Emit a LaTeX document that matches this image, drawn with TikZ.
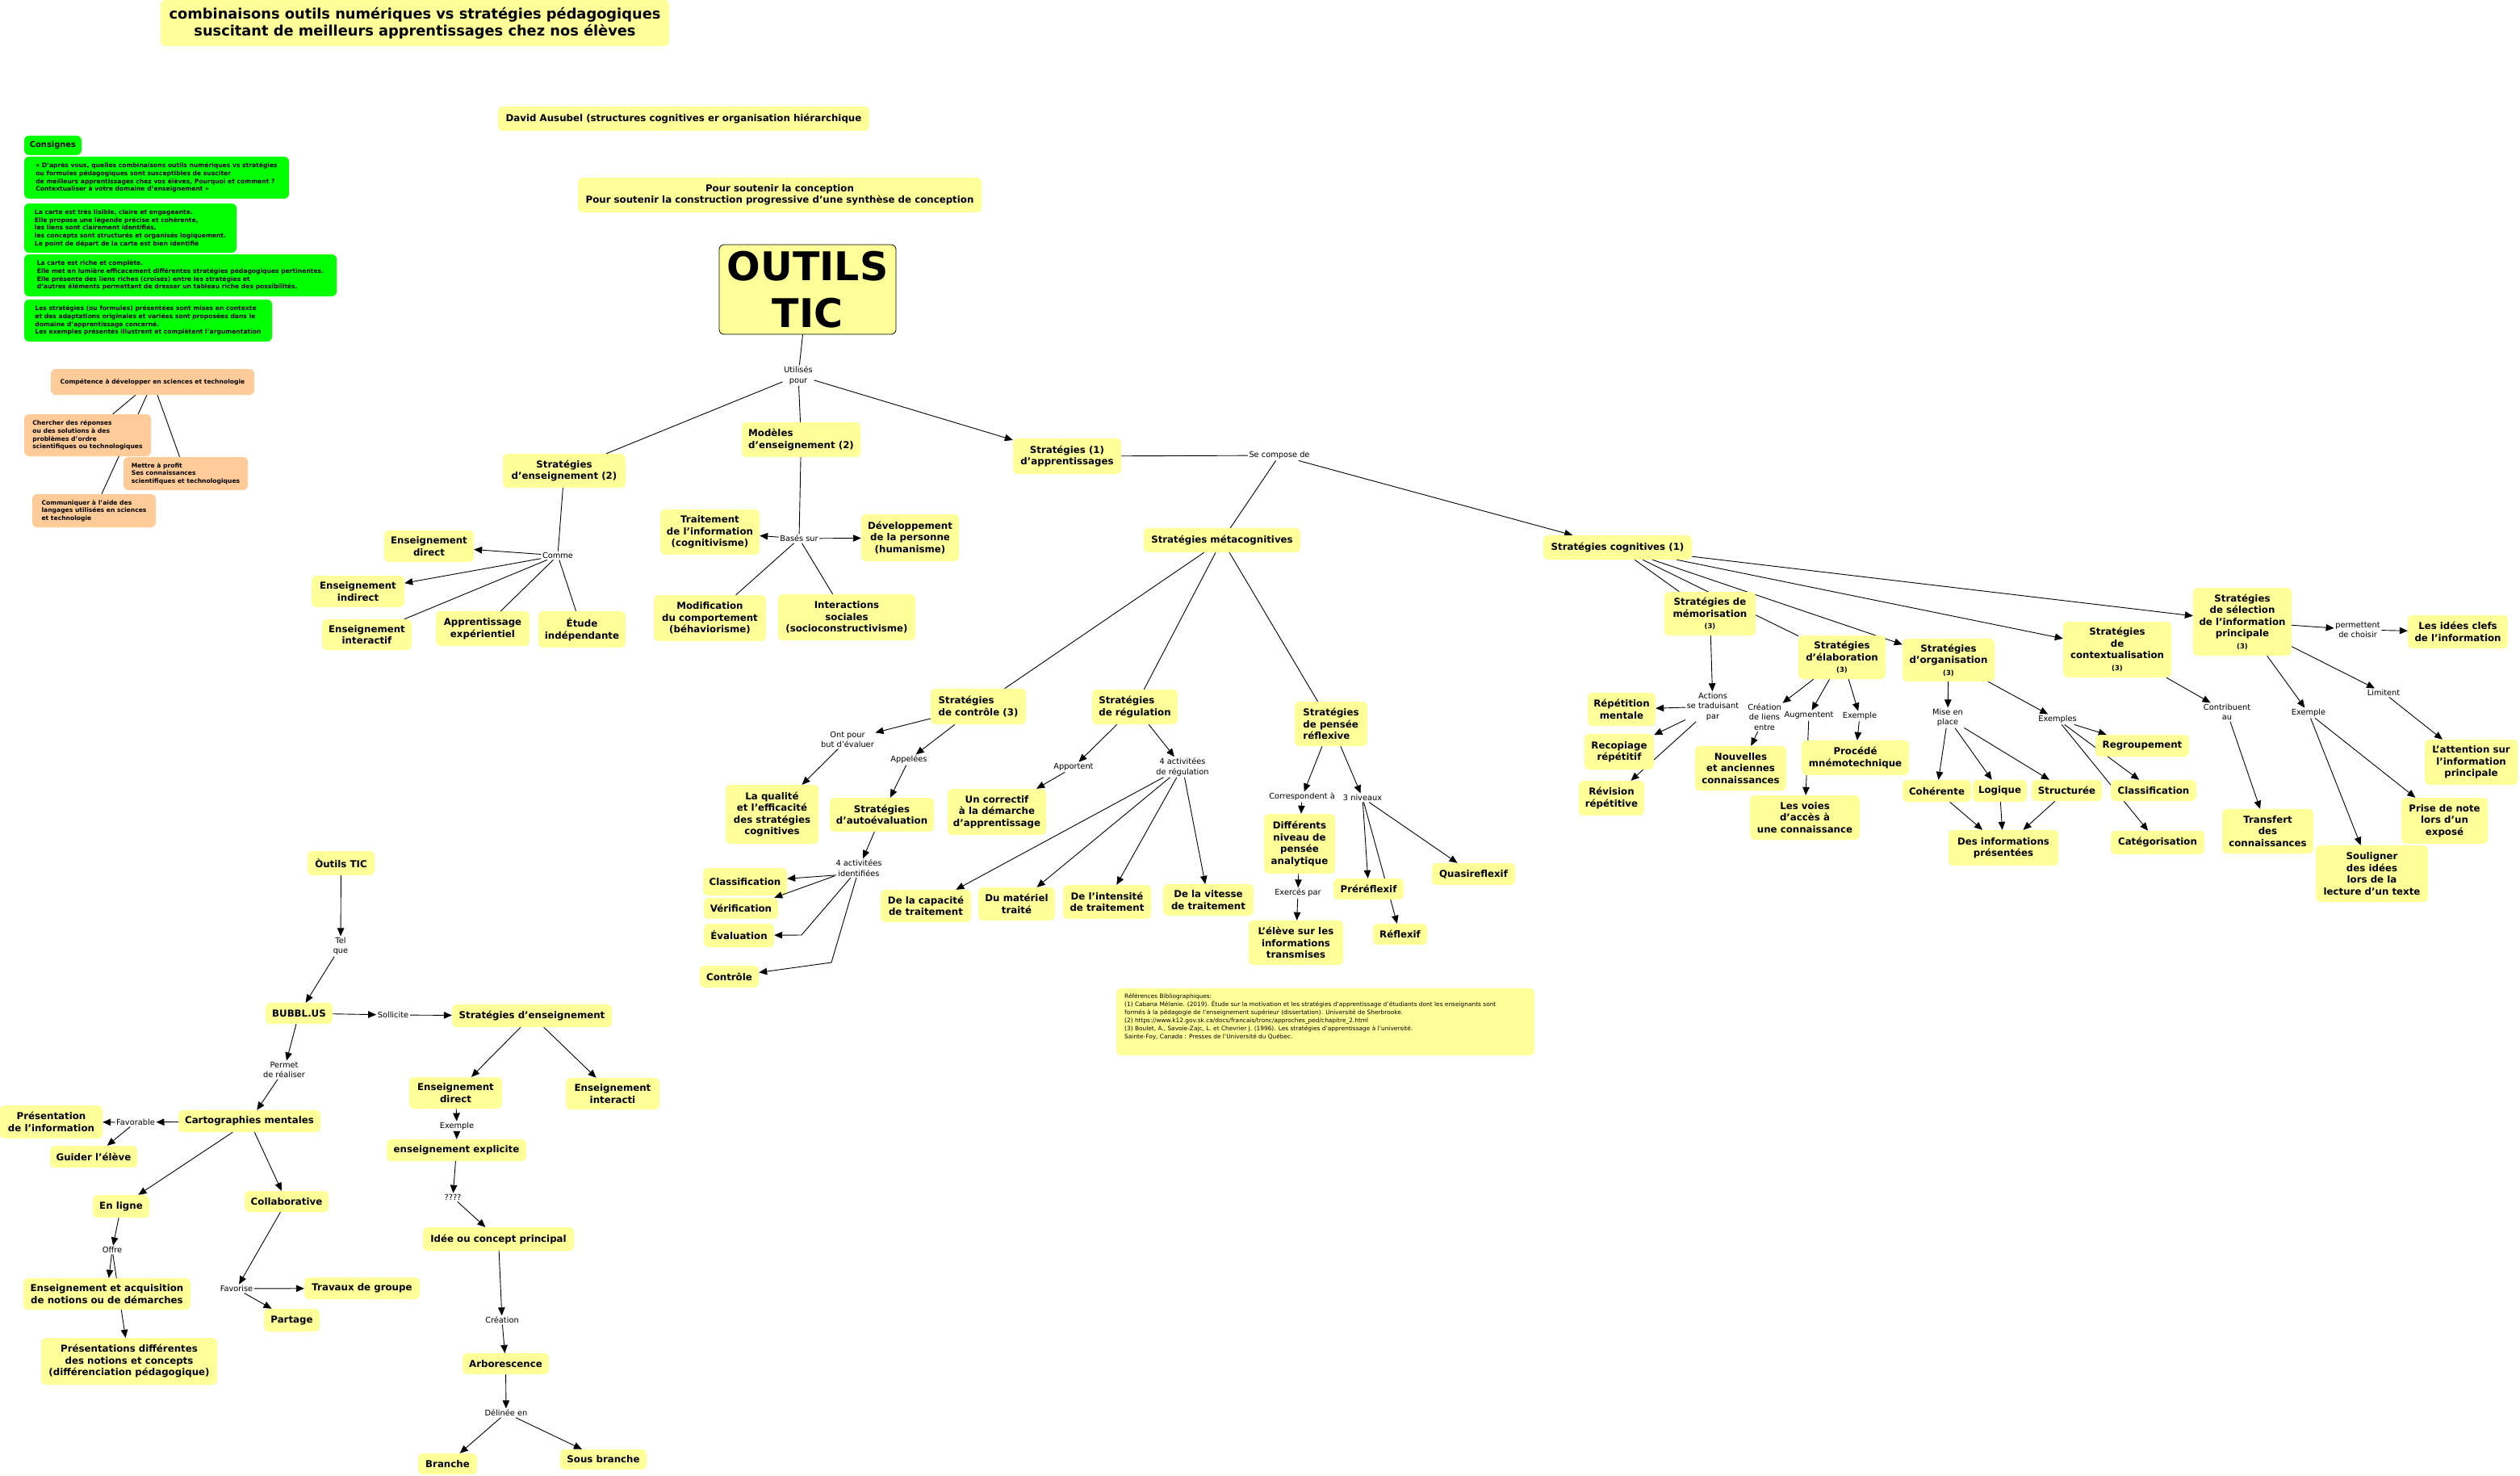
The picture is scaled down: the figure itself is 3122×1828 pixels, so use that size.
\documentclass[tikz,border=0pt]{standalone}
\usepackage{fontspec}
\setmainfont{DejaVu Sans}
\usetikzlibrary{arrows.meta,backgrounds}
\definecolor{yel}{HTML}{FFFF99}
\definecolor{grn}{HTML}{00FF00}
\definecolor{org}{HTML}{FFCC99}
\newcommand\cmnode[7]{\node[#1,minimum width={#5-#3},minimum height={#6-#4}] (#2) at ({(#3+#5)/2},{(#4+#6)/2}) {#7};}
\tikzset{
 base/.style={rounded corners=6pt, inner sep=1pt, text=black},
 yb/.style={base, fill=yel, align=center, font=\bfseries\fontsize{11.8}{14.5}\selectfont},
 ybl/.style={yb, align=left},
 gb/.style={base, fill=grn, align=left, font=\bfseries\fontsize{7.6}{9.7}\selectfont},
 ob/.style={base, fill=org, align=left, font=\bfseries\fontsize{7.6}{9.7}\selectfont},
 lbl/.style={inner sep=1.5pt, align=center, font=\fontsize{9.8}{12.3}\selectfont},
 ar/.style={-{Triangle[length=10pt,width=8.5pt]}, line width=0.9pt},
 ln/.style={line width=0.9pt},
}
\newcommand\tre{{\fontsize{8.5}{10}\selectfont (3)}}
\begin{document}
\begin{tikzpicture}[x=1pt,y=-1pt]
\useasboundingbox (0,0) rectangle (3122,1828);
% ---------- top
\cmnode{yb,font=\bfseries\fontsize{17.8}{21}\selectfont}{title}{199}{0}{829}{57}{combinaisons outils numériques vs stratégies pédagogiques\\suscitant de meilleurs apprentissages chez nos élèves}
\cmnode{yb}{david}{617}{132}{1077}{162}{David Ausubel (structures cognitives er organisation hiérarchique}
\cmnode{yb}{pour}{716}{220}{1216}{263}{Pour soutenir la conception\\Pour soutenir la construction progressive d'une synthèse de conception}
\cmnode{yb,draw=black,line width=0.8pt,font=\bfseries\fontsize{49}{58}\selectfont}{outils}{891}{303}{1110}{414}{OUTILS\\TIC}
% ---------- green
\cmnode{gb,font=\bfseries\fontsize{9.9}{12}\selectfont}{consignes}{30}{168}{101}{192}{Consignes}
\cmnode{gb}{g1}{30}{194}{358}{246}{« D’après vous, quelles combinaisons outils numériques vs stratégies\\ ou formules pédagogiques sont susceptibles de susciter\\de meilleurs apprentissages chez vos élèves, Pourquoi et comment ?\\Contextualiser à votre domaine d’enseignement »}
\cmnode{gb}{g2}{30}{252}{293}{313}{La carte est très lisible, claire et engageante.\\Elle propose une légende précise et cohérente,\\les liens sont clairement identifiés,\\les concepts sont structurés et organisés logiquement.\\Le point de départ de la carte est bien identifié}
\cmnode{gb}{g3}{30}{315}{417}{367}{La carte est riche et complète.\\Elle met en lumière efficacement différentes stratégies pédagogiques pertinentes.\\Elle présente des liens riches (croisés) entre les stratégies et\\d’autres éléments permettant de dresser un tableau riche des possibilités.}
\cmnode{gb}{g4}{30}{371}{337}{423}{Les stratégies (ou formules) présentées sont mises en contexte\\et des adaptations originales et variées sont proposées dans le\\ domaine d’apprentissage concerné.\\Les exemples présentés illustrent et complètent l’argumentation}
% ---------- orange
\cmnode{ob}{comp}{63}{457}{315}{489}{Compétence à développer en sciences et technologie}
\cmnode{ob}{chercher}{30}{513}{187}{565}{Chercher des réponses\\ou des solutions à des\\problèmes d'ordre\\scientifiques ou technologiques}
\cmnode{ob}{mettre}{153}{566}{307}{607}{Mettre à profit\\Ses connaissances\\scientifiques et technologiques}
\cmnode{ob}{commun}{40}{612}{193}{653}{Communiquer à l'aide des\\langages utilisées en sciences\\et technologie}
% ---------- centre
\cmnode{yb}{sens2}{623}{562}{775}{604}{Stratégies\\d'enseignement (2)}
\cmnode{ybl}{mod}{919}{523}{1066}{566}{Modèles\\d'enseignement (2)}
\cmnode{yb}{strat1}{1255}{543}{1389}{587}{Stratégies (1)\\d'apprentissages}
\cmnode{yb}{edirect}{476}{657}{587}{696}{Enseignement\\direct}
\cmnode{yb}{eindirect}{386}{713}{501}{752}{Enseignement\\indirect}
\cmnode{yb}{einter}{399}{767}{510}{805}{Enseignement\\interactif}
\cmnode{yb}{apprexp}{540}{757}{656}{800}{Apprentissage\\expérientiel}
\cmnode{yb}{etude}{667}{757}{775}{802}{Étude\\indépendante}
\cmnode{yb}{trait}{818}{631}{941}{687}{Traitement\\de l'information\\(cognitivisme)}
\cmnode{yb}{dev}{1067}{637}{1188}{695}{Développement\\de la personne\\(humanisme)}
\cmnode{yb}{modif}{810}{737}{949}{794}{Modification\\du comportement\\(béhaviorisme)}
\cmnode{yb}{inter}{964}{736}{1134}{793}{Interactions\\sociales\\(socioconstructivisme)}
\cmnode{yb}{meta}{1417}{654}{1611}{684}{Stratégies métacognitives}
\cmnode{yb}{cog}{1912}{663}{2096}{693}{Stratégies cognitives (1)}
\cmnode{ybl}{ctrl}{1153}{853}{1271}{897}{Stratégies\\de contrôle (3)}
\cmnode{ybl}{regul}{1353}{854}{1459}{897}{Stratégies\\de régulation}
\cmnode{ybl}{reflex}{1604}{869}{1694}{924}{Stratégies\\de pensée\\réflexive}
\cmnode{yb}{qualite}{899}{972}{1014}{1045}{La qualité\\et l'efficacité\\des stratégies\\cognitives}
\cmnode{yb}{autoeval}{1028}{988}{1157}{1030}{Stratégies\\d'autoévaluation}
\cmnode{yb}{classifa}{871}{1075}{975}{1109}{Classification}
\cmnode{yb}{verif}{872}{1112}{964}{1138}{Vérification}
\cmnode{yb}{evalu}{872}{1144}{959}{1173}{Évaluation}
\cmnode{yb}{controle}{867}{1196}{940}{1223}{Contrôle}
\cmnode{yb}{correctif}{1174}{977}{1296}{1034}{Un correctif\\à la démarche\\d'apprentissage}
\cmnode{yb}{capacite}{1091}{1102}{1203}{1142}{De la capacité\\de traitement}
\cmnode{yb}{materiel}{1212}{1099}{1307}{1140}{Du matériel\\traité}
\cmnode{yb}{intensite}{1317}{1096}{1426}{1138}{De l'intensité\\de traitement}
\cmnode{yb}{vitesse}{1441}{1095}{1553}{1134}{De la vitesse\\de traitement}
\cmnode{yb}{niveaux}{1566}{1008}{1654}{1082}{Différents\\niveau de\\pensée\\analytique}
\cmnode{yb}{eleve}{1547}{1140}{1664}{1195}{L'élève sur les\\informations\\transmises}
\cmnode{yb}{prerefl}{1652}{1088}{1739}{1114}{Préréflexif}
\cmnode{yb}{refl}{1701}{1144}{1768}{1170}{Réflexif}
\cmnode{yb}{quasi}{1774}{1069}{1877}{1096}{Quasireflexif}
% ---------- right
\cmnode{yb}{memo}{2062}{733}{2175}{787}{Stratégies de\\mémorisation\\\tre}
\cmnode{yb}{elab}{2228}{787}{2336}{841}{Stratégies\\d'élaboration\\\tre}
\cmnode{yb}{orga}{2357}{791}{2471}{844}{Stratégies\\d'organisation\\\tre}
\cmnode{yb}{contexte}{2556}{770}{2690}{839}{Stratégies\\de\\contextualisation\\\tre}
\cmnode{yb}{select}{2717}{728}{2839}{812}{Stratégies\\de sélection\\de l'information\\principale\\\tre}
\cmnode{yb}{repet}{1967}{858}{2051}{899}{Répétition\\mentale}
\cmnode{yb}{recop}{1963}{909}{2049}{953}{Recopiage\\répétitif}
\cmnode{yb}{revis}{1956}{967}{2037}{1010}{Révision\\répétitive}
\cmnode{yb}{nouv}{2100}{924}{2213}{979}{Nouvelles\\et anciennes\\connaissances}
\cmnode{yb}{voies}{2168}{985}{2304}{1040}{Les voies\\d'accès à\\une connaissance}
\cmnode{yb}{proc}{2232}{917}{2365}{960}{Procédé\\mnémotechnique}
\cmnode{yb}{coher}{2357}{966}{2442}{993}{Cohérente}
\cmnode{yb}{logique}{2444}{966}{2511}{993}{Logique}
\cmnode{yb}{struct}{2517}{966}{2604}{992}{Structurée}
\cmnode{yb}{desinfo}{2414}{1028}{2550}{1072}{Des informations\\présentées}
\cmnode{yb}{regroup}{2596}{910}{2712}{937}{Regroupement}
\cmnode{yb}{classifb}{2615}{966}{2721}{992}{Classification}
\cmnode{yb}{categ}{2615}{1029}{2731}{1058}{Catégorisation}
\cmnode{yb}{transfert}{2753}{1002}{2866}{1057}{Transfert\\des\\connaissances}
\cmnode{yb}{idees}{2983}{762}{3107}{803}{Les idées clefs\\de l'information}
\cmnode{yb}{attention}{3004}{916}{3119}{972}{L'attention sur\\l'information\\principale}
\cmnode{yb}{prise}{2975}{988}{3082}{1045}{Prise de note\\lors d'un\\exposé}
\cmnode{yb}{souligner}{2869}{1047}{3008}{1117}{Souligner\\des idées\\lors de la\\lecture d'un texte}
\cmnode{yb}{refbox}{1383}{1224}{1901}{1307}{}
\node[anchor=north west, align=left, inner sep=0pt, font=\fontsize{7.4}{10}\selectfont] (refs) at (1393,1230) {Références Bibliographiques:\\(1) Cabana Mélanie. (2019). Étude sur la motivation et les stratégies d’apprentissage d’étudiants dont les enseignants sont\\formés à la pédagogie de l’enseignement supérieur (dissertation). Université de Sherbrooke.\\(2) https://www.k12.gov.sk.ca/docs/francais/tronc/approches\_ped/chapitre\_2.html\\(3) Boulet, A., Savoie-Zajc, L. et Chevrier J. (1996). Les stratégies d’apprentissage à l’université.\\Sainte-Foy, Canada : Presses de l’Université du Québec.};
% ---------- bottom left
\cmnode{yb}{outilsb}{381}{1054}{464}{1084}{Òutils TIC}
\cmnode{yb}{bubbl}{329}{1242}{412}{1268}{BUBBL.US}
\cmnode{yb}{sens}{560}{1244}{758}{1272}{Stratégies d'enseignement}
\cmnode{yb}{edirectb}{507}{1334}{622}{1373}{Enseignement\\direct}
\cmnode{yb}{einterb}{701}{1335}{817}{1374}{Enseignement\\interacti}
\cmnode{yb}{explicite}{479}{1411}{652}{1438}{enseignement explicite}
\cmnode{yb}{idee}{524}{1520}{711}{1549}{Idée ou concept principal}
\cmnode{yb}{arbo}{573}{1676}{680}{1702}{Arborescence}
\cmnode{yb}{branche}{518}{1800}{591}{1826}{Branche}
\cmnode{yb}{sousbr}{694}{1795}{801}{1820}{Sous branche}
\cmnode{yb}{carto}{221}{1375}{397}{1402}{Cartographies mentales}
\cmnode{yb}{present}{0}{1369}{127}{1410}{Présentation\\de l'information}
\cmnode{yb}{guider}{62}{1419}{170}{1446}{Guider l'élève}
\cmnode{yb}{enligne}{115}{1480}{185}{1508}{En ligne}
\cmnode{yb}{collab}{303}{1475}{407}{1501}{Collaborative}
\cmnode{yb}{enseigacq}{29}{1583}{236}{1622}{Enseignement et acquisition\\de notions ou de démarches}
\cmnode{yb}{presdiff}{51}{1657}{269}{1715}{Présentations différentes\\des notions et concepts\\(différenciation pédagogique)}
\cmnode{yb}{travaux}{377}{1582}{520}{1609}{Travaux de groupe}
\cmnode{yb}{partage}{327}{1621}{396}{1649}{Partage}
% ---------- labels
\node[lbl] (utilises) at (989,465) {Utilisés\\pour};
\node[lbl] (comme) at (691,688) {Comme};
\node[lbl] (bases) at (990,667) {Basés sur};
\node[lbl] (secompose) at (1585,564) {Se compose de};
\node[lbl] (ontpour) at (1050,916) {Ont pour\\but d'évaluer};
\node[lbl] (appelees) at (1126,941) {Appelées};
\node[lbl] (actid) at (1064,1075) {4 activitées\\identifiées};
\node[lbl] (apportent) at (1330,950) {Apportent};
\node[lbl] (actreg) at (1465,950) {4 activitées\\de régulation};
\node[lbl] (corresp) at (1613,987) {Correspondent à};
\node[lbl] (exerces) at (1608,1106) {Exercés par};
\node[lbl] (nivtrois) at (1688,988) {3 niveaux};
\node[lbl] (actions) at (2122,875) {Actions\\se traduisant\\par};
\node[lbl] (creation) at (2186,888) {Création\\de liens\\entre};
\node[lbl] (augment) at (2241,886) {Augmentent};
\node[lbl] (exemplea) at (2304,887) {Exemple};
\node[lbl] (miseplace) at (2413,889) {Mise en\\place};
\node[lbl] (exemples) at (2549,891) {Exemples};
\node[lbl] (contrib) at (2759,882) {Contribuent\\au};
\node[lbl] (exempleb) at (2860,883) {Exemple};
\node[lbl] (limitent) at (2953,858) {Limitent};
\node[lbl] (permettent) at (2921,780) {permettent\\de choisir};
\node[lbl] (telque) at (422,1172) {Tel\\que};
\node[lbl] (sollicite) at (487,1257) {Sollicite};
\node[lbl] (permet) at (352,1325) {Permet\\de réaliser};
\node[lbl] (favorable) at (168,1390) {Favorable};
\node[lbl] (offre) at (139,1548) {Offre};
\node[lbl] (favorise) at (293,1596) {Favorise};
\node[lbl] (exemplec) at (566,1395) {Exemple};
\node[lbl] (qqqq) at (561,1483) {????};
\node[lbl] (creationb) at (622,1635) {Création};
\node[lbl] (delinee) at (627,1750) {Délinée en};
\coordinate (ev1) at (993,1158);
\coordinate (ct1) at (1030,1192);
% connector drawn over the boxes
\draw[ar] ([xshift=-30pt,yshift=2pt]actid.south) -- ([xshift=-5pt]verif.north east);
% ---------- connectors
\begin{pgfonlayer}{background}
\fill[white] (0,0) rectangle (3122,1828);
\draw[ln] ([xshift=-21pt]comp.south) -- (chercher);
\draw[ln] ([xshift=-7pt]comp.south) -- (commun);
\draw[ln] ([xshift=6pt]comp.south) -- (mettre);
\draw[ln] ([xshift=-6pt]outils.south) -- (utilises);
\draw[ln] (utilises) -- (sens2);
\draw[ln] (utilises) -- (mod);
\draw[ar] (utilises) -- (strat1);
\draw[ln] (strat1) -- (secompose);
\draw[ln] (secompose) -- (meta);
\draw[ar] (secompose) -- (cog);
\draw[ln] (sens2) -- (comme);
\draw[ar] (comme) -- (edirect);
\draw[ar] (comme) -- (eindirect);
\draw[ln] (comme) -- (einter);
\draw[ln] (comme) -- (apprexp);
\draw[ln] (comme) -- (etude);
\draw[ln] (mod) -- (bases);
\draw[ar] (bases) -- (trait);
\draw[ar] (bases) -- (dev);
\draw[ln] (bases) -- (modif);
\draw[ln] (bases) -- (inter);
\draw[ln] (meta) -- (ctrl);
\draw[ln] (meta) -- (regul);
\draw[ln] (meta) -- (reflex);
\draw[ar] (ctrl) -- (ontpour);
\draw[ar] (ontpour) -- (qualite);
\draw[ar] (ctrl) -- (appelees);
\draw[ar] (appelees) -- (autoeval);
\draw[ar] (autoeval) -- (actid);
\draw[ar] ([xshift=-28pt,yshift=3pt]actid.south) -- (classifa);
\draw[ar] ([xshift=-10pt]actid.south) -- (ev1) -- (evalu);
\draw[ar] ([xshift=-3pt]actid.south) -- (ct1) -- (controle);
\draw[ar] (regul) -- (apportent);
\draw[ar] (apportent) -- (correctif);
\draw[ar] (regul) -- (actreg);
\draw[ar] (actreg) -- (capacite);
\draw[ar] (actreg) -- (materiel);
\draw[ar] (actreg) -- (intensite);
\draw[ar] (actreg) -- (vitesse);
\draw[ar] (reflex) -- (corresp);
\draw[ar] (corresp) -- (niveaux);
\draw[ar] (niveaux) -- (exerces);
\draw[ar] (exerces) -- (eleve);
\draw[ar] (reflex) -- (nivtrois);
\draw[ar] (nivtrois) -- (prerefl);
\draw[ar] (nivtrois) -- (refl);
\draw[ar] (nivtrois) -- (quasi);
\draw[ln] ([xshift=21pt]cog.south) -- (memo);
\draw[ln] ([xshift=31pt]cog.south) -- (elab);
\draw[ar] ([xshift=43pt]cog.south) -- (orga);
\draw[ar] ([xshift=73pt]cog.south) -- (contexte);
\draw[ar] ([yshift=4pt]cog.south east) -- (select);
\draw[ar] (memo) -- (actions);
\draw[ar] (actions) -- (repet);
\draw[ar] (actions) -- (recop);
\draw[ar] (actions) -- (revis);
\draw[ar] (elab) -- (creation);
\draw[ar] (creation) -- (nouv);
\draw[ar] (elab) -- (augment);
\draw[ar] (augment) -- (voies);
\draw[ar] (elab) -- (exemplea);
\draw[ar] (exemplea) -- (proc);
\draw[ar] (orga) -- (miseplace);
\draw[ar] (miseplace) -- (coher);
\draw[ar] (miseplace) -- (logique);
\draw[ar] (miseplace) -- (struct);
\draw[ar] (coher) -- (desinfo);
\draw[ar] (logique) -- (desinfo);
\draw[ar] (struct) -- (desinfo);
\draw[ar] (orga) -- (exemples);
\draw[ar] (exemples) -- (regroup);
\draw[ar] (exemples) -- (classifb);
\draw[ar] (exemples) -- (categ);
\draw[ar] (contexte) -- (contrib);
\draw[ar] (contrib) -- (transfert);
\draw[ar] (select) -- (permettent);
\draw[ar] (permettent) -- (idees);
\draw[ar] (select) -- (limitent);
\draw[ar] (limitent) -- (attention);
\draw[ar] (select) -- (exempleb);
\draw[ar] (exempleb) -- (souligner);
\draw[ar] (exempleb) -- (prise);
\draw[ar] (outilsb) -- (telque);
\draw[ar] (telque) -- (bubbl);
\draw[ar] (bubbl) -- (sollicite);
\draw[ar] (sollicite) -- (sens);
\draw[ar] (sens) -- (edirectb);
\draw[ar] (sens) -- (einterb);
\draw[ar] (edirectb) -- (exemplec);
\draw[ar] (exemplec) -- (explicite);
\draw[ar] (explicite) -- (qqqq);
\draw[ar] (qqqq) -- (idee);
\draw[ar] (idee) -- (creationb);
\draw[ar] (creationb) -- (arbo);
\draw[ar] (arbo) -- (delinee);
\draw[ar] (delinee) -- (branche);
\draw[ar] (delinee) -- (sousbr);
\draw[ar] (bubbl) -- (permet);
\draw[ar] (permet) -- (carto);
\draw[ar] (carto) -- (favorable);
\draw[ar] (favorable) -- (present);
\draw[ar] (favorable) -- (guider);
\draw[ar] (carto) -- (enligne);
\draw[ar] (carto) -- (collab);
\draw[ar] (enligne) -- (offre);
\draw[ar] (offre) -- (enseigacq);
\draw[ar] (offre) -- (presdiff);
\draw[ar] (collab) -- (favorise);
\draw[ar] (favorise) -- (travaux);
\draw[ar] (favorise) -- (partage);
\end{pgfonlayer}
\end{tikzpicture}
\end{document}
